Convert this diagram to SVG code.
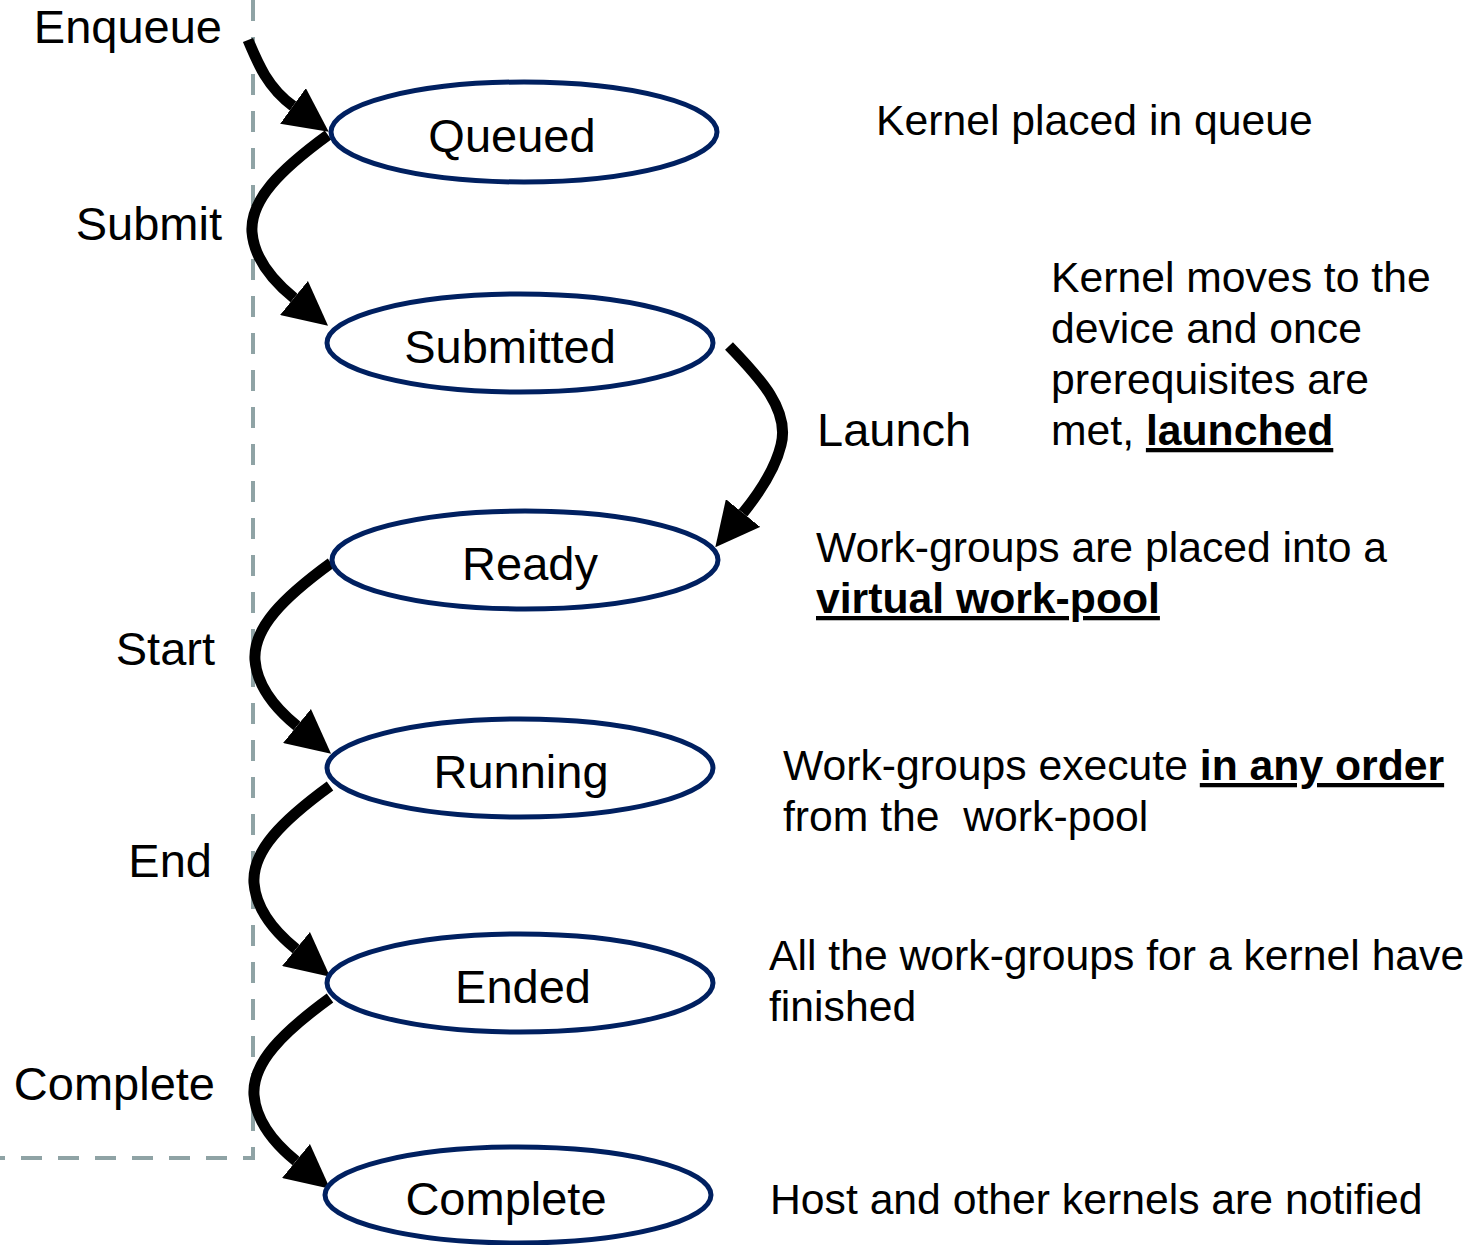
<svg xmlns="http://www.w3.org/2000/svg" width="1474" height="1245" viewBox="0 0 1474 1245">
<style>
text{font-family:"Liberation Sans",Arial,sans-serif;fill:#000}
.lbl{font-size:47px}
.st{font-size:47px;text-anchor:middle}
.desc{font-size:42.7px}
.b{font-weight:bold;text-decoration:underline}
.node ellipse{fill:#fff;stroke:#002060;stroke-width:5}
.arr{fill:none;stroke:#000;stroke-width:11;marker-end:url(#head)}
.dash{fill:none;stroke:#8fa3a5;stroke-width:4;stroke-dasharray:21 16}
</style>
<defs>
<marker id="head" markerUnits="userSpaceOnUse" markerWidth="44" markerHeight="44" viewBox="0 0 44 44" refX="0" refY="22" orient="auto">
<path d="M0,0 L44,22 L0,44 z" fill="#000"/>
</marker>
</defs>
<rect width="1474" height="1245" fill="#fff"/>
<path class="dash" d="M253,0 L253,1158 L0,1158"/>
<g id="connectors">
<path class="arr" d="M248,40 C258,64 268,88 293,106"/>
<path class="arr" d="M328,135 C280,170 250,200 252,232 C254,258 272,280 294,298"/>
<path class="arr" d="M729,346 C760,378 790,410 781,445 C775,470 760,492 743,513"/>
<path class="arr" d="M331,563 C283,598 253,628 255,660 C257,686 275,708 297,726"/>
<path class="arr" d="M330,786 C282,821 252,851 254,883 C256,909 274,931 296,949"/>
<path class="arr" d="M330,998 C282,1033 252,1063 254,1095 C256,1121 274,1143 296,1161"/>
</g>
<g id="node-queued" class="node"><ellipse cx="524" cy="132" rx="193" ry="50"/><text class="st" x="512" y="152">Queued</text></g>
<g id="node-submitted" class="node"><ellipse cx="520" cy="343" rx="193" ry="49"/><text class="st" x="510" y="363">Submitted</text></g>
<g id="node-ready" class="node"><ellipse cx="525" cy="560" rx="193" ry="49"/><text class="st" x="530" y="580">Ready</text></g>
<g id="node-running" class="node"><ellipse cx="520" cy="768" rx="193" ry="49"/><text class="st" x="521" y="788">Running</text></g>
<g id="node-ended" class="node"><ellipse cx="520" cy="983" rx="193" ry="49"/><text class="st" x="523" y="1003">Ended</text></g>
<g id="node-complete" class="node"><ellipse cx="518" cy="1195" rx="193" ry="48"/><text class="st" x="506" y="1215">Complete</text></g>
<g id="labels">
<text class="lbl" x="222" y="43" text-anchor="end">Enqueue</text>
<text class="lbl" x="222" y="240" text-anchor="end">Submit</text>
<text class="lbl" x="817" y="446">Launch</text>
<text class="lbl" x="215" y="665" text-anchor="end">Start</text>
<text class="lbl" x="212" y="877" text-anchor="end">End</text>
<text class="lbl" x="215" y="1100" text-anchor="end">Complete</text>
</g>
<g id="descriptions">
<text class="desc" x="876" y="135">Kernel placed in queue</text>
<text class="desc" x="1051" y="292">Kernel moves to the</text>
<text class="desc" x="1051" y="343">device and once</text>
<text class="desc" x="1051" y="394">prerequisites are</text>
<text class="desc" x="1051" y="445">met, <tspan class="b">launched</tspan></text>
<text class="desc" x="816" y="562">Work-groups are placed into a</text>
<text class="desc" x="816" y="613"><tspan class="b">virtual work-pool</tspan></text>
<text class="desc" x="783" y="780">Work-groups execute <tspan class="b">in any order</tspan></text>
<text class="desc" x="783" y="831" xml:space="preserve">from the  work-pool</text>
<text class="desc" x="769" y="970">All the work-groups for a kernel have</text>
<text class="desc" x="769" y="1021">finished</text>
<text class="desc" x="770" y="1214">Host and other kernels are notified</text>
</g>
</svg>
